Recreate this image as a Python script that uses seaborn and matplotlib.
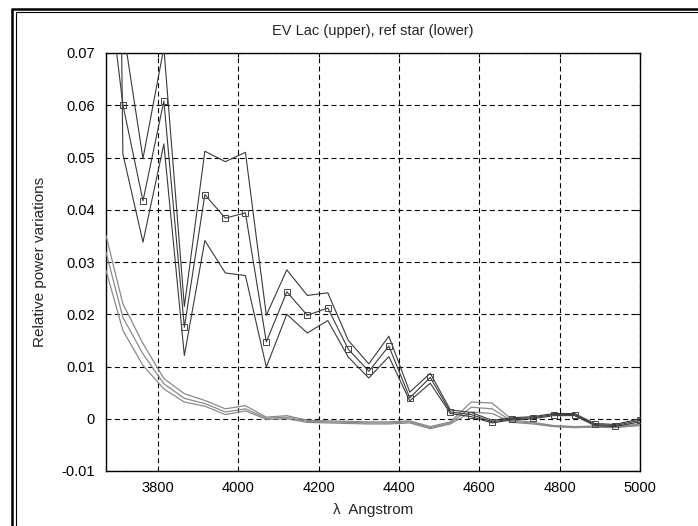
import matplotlib
matplotlib.use("Agg")
import matplotlib.pyplot as plt
from matplotlib.lines import Line2D
import seaborn as sns
import pandas as pd

# ---- data ----
wavelength = [3671, 3713, 3763, 3815, 3866, 3917, 3968, 4018, 4070, 4121, 4172, 4223,
              4274, 4325, 4375, 4427, 4478, 4528, 4580, 4632, 4682, 4734, 4785, 4837,
              4887, 4938, 5000]

evlac_mid = [0.087, 0.0601, 0.0417, 0.0608, 0.0175, 0.0429, 0.0384, 0.0394, 0.0147, 0.0243,
             0.0198, 0.0212, 0.0133, 0.0091, 0.0139, 0.0040, 0.0079, 0.0013, 0.0008, -0.0006,
             0.0000, 0.0002, 0.0008, 0.0008, -0.0011, -0.0013, -0.0003]
evlac_hi = [0.30, 0.075, 0.0498, 0.071, 0.0215, 0.0512, 0.0492, 0.0510, 0.0198, 0.0285,
            0.0236, 0.0241, 0.0150, 0.0105, 0.0158, 0.0051, 0.0087, 0.0017, 0.0012, -0.0003,
            0.0002, 0.0004, 0.0010, 0.0010, -0.0009, -0.0011, 0.0000]
evlac_lo = [0.32, 0.0507, 0.0338, 0.0526, 0.0121, 0.0341, 0.0279, 0.0274, 0.0099, 0.0200,
            0.0164, 0.0188, 0.0118, 0.0078, 0.0119, 0.0034, 0.0068, 0.0010, 0.0004, -0.0008,
            -0.0002, 0.0000, 0.0006, 0.0006, -0.0013, -0.0015, -0.0006]

ref_hi = [0.0351, 0.0220, 0.0144, 0.0077, 0.0048, 0.0035, 0.0019, 0.0025, 0.0003, 0.0006,
          -0.0003, -0.0004, -0.0005, -0.0006, -0.0006, -0.0004, -0.0015, -0.0006, 0.0032, 0.0030,
          -0.0002, -0.0007, -0.0013, -0.0015, -0.0014, -0.0015, -0.0010]
ref_mid = [0.0319, 0.0194, 0.0124, 0.0067, 0.0039, 0.0029, 0.0013, 0.0019, 0.0001, 0.0003,
           -0.0005, -0.0006, -0.0007, -0.0008, -0.0008, -0.0006, -0.0017, -0.0008, 0.0022, 0.0019,
           -0.0005, -0.0008, -0.0014, -0.0016, -0.0015, -0.0016, -0.0012]
ref_lo = [0.0284, 0.0169, 0.0102, 0.0057, 0.0032, 0.0024, 0.0008, 0.0015, -0.0001, 0.0000,
          -0.0007, -0.0008, -0.0009, -0.0010, -0.0010, -0.0008, -0.0019, -0.0010, 0.0013, 0.0010,
          -0.0007, -0.0010, -0.0015, -0.0017, -0.0016, -0.0017, -0.0013]

x_ticks = [3800, 4000, 4200, 4400, 4600, 4800, 5000]
y_ticks = [-0.01, 0, 0.01, 0.02, 0.03, 0.04, 0.05, 0.06, 0.07]
y_tick_labels = ["-0.01", "0", "0.01", "0.02", "0.03", "0.04", "0.05", "0.06", "0.07"]

title = "EV Lac (upper), ref star (lower)"
xlabel = "λ  Angstrom"
ylabel = "Relative power variations"

# ---- style ----
sns.set_style("white")
plt.rcParams["font.family"] = ["Liberation Sans", "DejaVu Sans"]
plt.rcParams["lines.scale_dashes"] = False

fig = plt.figure(figsize=(6.98, 5.26), dpi=100)
ax = fig.add_axes([106 / 698, 1 - 471 / 526, (640 - 106) / 698, (471 - 53) / 526])

df = pd.DataFrame({"wavelength": wavelength,
                   "evlac_mid": evlac_mid, "evlac_hi": evlac_hi, "evlac_lo": evlac_lo,
                   "ref_hi": ref_hi, "ref_mid": ref_mid, "ref_lo": ref_lo})

ref_color = "#8a8a8a"
for col in ["ref_hi", "ref_mid", "ref_lo"]:
    sns.lineplot(data=df, x="wavelength", y=col, ax=ax, color=ref_color, lw=0.9,
                 sort=False, zorder=3)

ev_color = "#3a3a3a"
for col in ["evlac_hi", "evlac_lo"]:
    sns.lineplot(data=df, x="wavelength", y=col, ax=ax, color=ev_color, lw=0.8,
                 sort=False, zorder=4)
sns.lineplot(data=df, x="wavelength", y="evlac_mid", ax=ax, color=ev_color, lw=0.8,
             marker="s", markersize=4, markerfacecolor="none", markeredgecolor="#444444",
             markeredgewidth=0.7, sort=False, zorder=5)

ax.set_xlim(3671, 5000)
ax.set_ylim(-0.01, 0.07)
ax.set_xticks(x_ticks)
ax.set_xticklabels([str(t) for t in x_ticks])
ax.set_yticks(y_ticks)
ax.set_yticklabels(y_tick_labels)

ax.grid(True, color="black", linestyle=(0, (3.6, 2.4)), linewidth=0.8)
ax.set_axisbelow(True)
for s in ax.spines.values():
    s.set_visible(True)
    s.set_color("black")
    s.set_linewidth(1.0)

ax.tick_params(axis="both", direction="in", length=3, width=0.8, colors="black",
               labelsize=10.5, top=True, right=True)
ax.tick_params(axis="y", pad=8)
ax.tick_params(axis="x", pad=7)

ax.set_title(title, fontsize=10.5, pad=13)
ax.set_xlabel(xlabel, fontsize=11, labelpad=6)
ax.set_ylabel(ylabel, fontsize=11, labelpad=10)

# window frame (double line on top and left, cropped on right/bottom)
W, H = 698, 526
fig.add_artist(Line2D([12 / W, 12 / W], [0, 1 - 8.5 / H], transform=fig.transFigure,
                      color="black", lw=1.8, solid_capstyle="butt"))
fig.add_artist(Line2D([11 / W, 1], [1 - 8.5 / H, 1 - 8.5 / H], transform=fig.transFigure,
                      color="black", lw=1.8, solid_capstyle="butt"))
fig.add_artist(Line2D([15.5 / W, 15.5 / W], [0, 1 - 12 / H], transform=fig.transFigure,
                      color="black", lw=0.8, solid_capstyle="butt"))
fig.add_artist(Line2D([15.5 / W, 1], [1 - 12 / H, 1 - 12 / H], transform=fig.transFigure,
                      color="black", lw=0.8, solid_capstyle="butt"))

fig.savefig("out.png", dpi=100)
